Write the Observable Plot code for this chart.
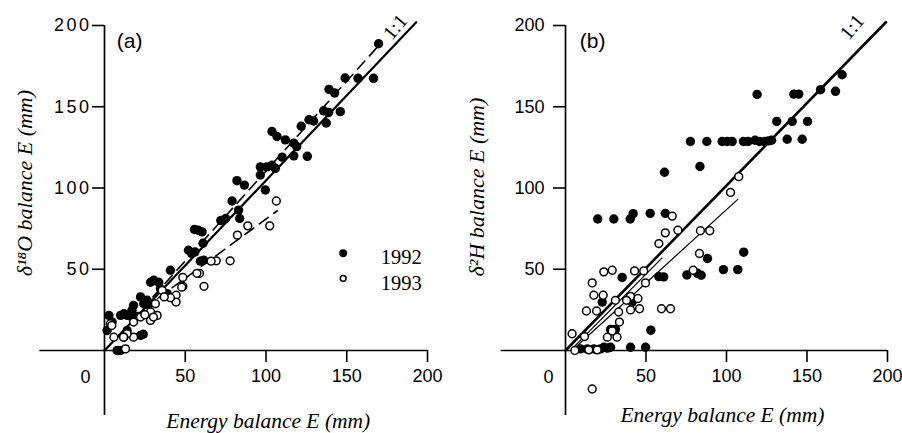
<!DOCTYPE html>
<html>
<head>
<meta charset="utf-8">
<script src="https://cdn.jsdelivr.net/npm/d3@7"></script>
<script src="https://cdn.jsdelivr.net/npm/@observablehq/plot@0.6"></script>
<style>
  html, body { margin: 0; padding: 0; background: white; }
  #wrap { display: flex; width: 902px; height: 433px; }
  #panelA g[aria-label="y-axis tick label"] text { letter-spacing: 2.5px; }
</style>
</head>
<body>
<div id="wrap"><div id="panelA"></div><div id="panelB"></div></div>
<script>
// ---------- data ----------
const ticks = [50, 100, 150, 200];

// Panel (a): energy balance E vs d18O balance E
const a1992x = [169.7,149,157,166.6,139,142.5,146,135.7,138.8,137.3,121.8,126.6,129.5,103.7,106.8,112,117.2,119,117.2,125.6,110,103.7,100.6,96.5,96.5,105.8,99.6,82,86.6,79,83,83.7,75,72,55.7,58,60.4,61,52,54,56,61.4,59.4,40.8,30.5,28.5,33.6,34.6,38.8,43,22.3,26.4,24.3,27,18,17,18,10,12,14,2.7,4.7,1.6,7.8,10,22.3,24,14,21];
const a1992y = [188.8,167.7,167.5,167.5,160.7,158.5,147,147.5,146.5,140,138,142,141.2,134.8,131.7,129.6,127.6,125.5,119.8,119.5,119,114,113,113,108,112,98.8,104.5,101.8,92,86.4,81.2,81.2,80,74.5,74,73,66,61.7,59.7,60.7,55.6,55,49.4,43.2,42,42,38,35,32,33,30.9,28.8,28,27.8,24.7,21.6,21.6,22.6,21.6,21.6,17.5,12.3,0,0,9.3,10,12.3,21];
const a1993x = [106.4,102.3,88.7,82.3,77.8,69.2,66,61.6,58.8,57.2,48.5,48.5,44.3,44.3,40.8,35.7,32.6,28.5,31.5,28.5,18,18,14,12,3.7,5.8,13,22.3,37,25,4.5,30.3,47.8,11.8];
const a1993y = [92,76.7,76.7,71,55.2,55.2,55,39.5,47.5,47.5,45,39.5,34,29.8,32.5,37,21.6,23.7,28.8,18.5,17.5,8.2,10.3,8.2,16.5,8.2,1,20.6,33,22,15.4,20.6,39,8.2];
// lines in panel (a): [x1, y1, x2, y2]
const aOneToOne = [0, 0, 193, 202];
const aFit1992 = [30, 33, 171, 189];
const aFit1993 = [15, 19, 107, 86];

// Panel (b): energy balance E vs d2H balance E
const b1992x = [171.8,167.7,158.4,141.8,144.9,119,131.2,140.8,150.3,137.7,147,77.6,87.8,97.3,100.4,103.5,110.5,113.4,117.7,120.5,123.5,126,128,83.5,61.5,20,30,40.2,42,52.6,62,110.7,88.2,75.4,84.3,82,98.1,107,58,61,35.2,22.8,41.4,28,31,53,40.4,49.7,23.8,26,28,9.3,13.5,21.7,17.6];
const b1992y = [169.7,159.5,160.5,157.8,157.8,157.6,141,141,141,130,130,128.6,128.6,128.6,128.6,128.6,128.6,128.6,129.4,128.6,128.6,129,129.4,113.2,109.7,80.9,80.9,80.9,84.2,84.4,84.4,60.5,56.6,46.5,46.3,47.5,49.8,49.8,45.5,45.3,45,29.8,29.8,13,13,12.5,2,2,2,1.5,2,1,1,1,1];
const b1993x = [107.6,102.5,83.8,89.6,83.2,79.3,66.3,62,69.8,58,23.8,29,42.9,48.6,49.7,16.6,17.6,23.4,13,19.3,40.4,45,40.4,46,59.6,65.2,33,33.5,31,37.9,26,32,4.1,11.8,5.8,14.5,19.7,16.6,29];
const b1993y = [107,97.3,73.7,73.7,59.7,49.4,82.7,72.4,74,65.8,48.4,49.4,49,49,41.6,41.6,34,34,24.3,24.3,33.3,32,25,25.7,25.7,25.7,23.7,17.5,30.9,30.9,8.2,8.2,10.3,8.6,0,0.4,0.4,-23.7,12];
const bOneToOne = [0, 0, 199, 202];
const bFit1992 = [4, 1, 60, 57];
const bFit1993 = [4, 0, 107, 93];

const years = ["1992", "1993"];
const serif = "'Liberation Serif','Times New Roman',serif";

function pts(xs, ys) { return xs.map((x, i) => ({x, y: ys[i]})); }
function seg(s) { return [{x: s[0], y: s[1]}, {x: s[2], y: s[3]}]; }

function panel(cfg) {
  const marks = [
    Plot.ruleY([0], {x1: -40, x2: 200, stroke: "black", strokeWidth: 1.7}),
    Plot.ruleX([0], {y1: -40, y2: 200, stroke: "black", strokeWidth: 1.7}),
    Plot.axisX(ticks, {anchor: "bottom", tickSize: 12, tickPadding: 7, fontSize: 18, label: null, strokeWidth: 1.6}),
    Plot.axisY(ticks, {anchor: "left", tickSize: 12, tickPadding: cfg.yPad, fontSize: 18, label: null, strokeWidth: 1.6}),
    Plot.text(["0"], {x: cfg.zero[0], y: cfg.zero[1], fontSize: 18}),
    Plot.text([cfg.tag], {x: cfg.tagPos[0], y: cfg.tagPos[1], fontSize: 21}),
    Plot.text(["Energy balance E (mm)"], {x: cfg.xTitle[0], y: cfg.xTitle[1], fontSize: 21.5, fontStyle: "italic", fontFamily: serif}),
    Plot.text([cfg.yLabel], {x: cfg.yTitle[0], y: cfg.yTitle[1], rotate: -90, fontSize: 22, fontStyle: "italic", fontFamily: serif}),
    Plot.text(["1:1"], {x: cfg.oneLbl[0], y: cfg.oneLbl[1], rotate: -50, fontSize: 20, fontFamily: serif}),
    Plot.line(seg(cfg.one), {x: "x", y: "y", stroke: "black", strokeWidth: cfg.oneW}),
    Plot.line(seg(cfg.f92), {x: "x", y: "y", stroke: "black", strokeWidth: cfg.fitW, strokeDasharray: cfg.dash}),
    Plot.line(seg(cfg.f93), {x: "x", y: "y", stroke: "black", strokeWidth: cfg.fitW, strokeDasharray: cfg.dash}),
    Plot.dot(pts(cfg.x92, cfg.y92), {x: "x", y: "y", r: 4.7, fill: "black", stroke: "none"}),
    Plot.dot(pts(cfg.x93, cfg.y93), {x: "x", y: "y", r: 3.9, fill: "white", stroke: "black", strokeWidth: 1.5})
  ];
  if (cfg.legend) {
    marks.push(
      Plot.dot(years, {x: 147.8, y: (d, i) => [59.9, 44.4][i], r: (d, i) => [4.5, 3.7][i], fill: (d, i) => ["black", "white"][i], stroke: "black", strokeWidth: 1.5}),
      Plot.text(years, {x: 171, y: (d, i) => [57.5, 41.5][i], text: d => d, textAnchor: "start", fontSize: 20.5, fontFamily: serif})
    );
  }
  return Plot.plot({
    width: 451, height: 433,
    marginLeft: cfg.mL, marginRight: cfg.mR, marginTop: 25, marginBottom: 83,
    x: {domain: [0, 200]}, y: {domain: [0, 200]},
    style: {background: "white", overflow: "visible", fontFamily: "'Liberation Sans',Arial,sans-serif", color: "black"},
    marks
  });
}

document.getElementById("panelA").append(panel({
  mL: 104, mR: 24, yPad: 1, zero: [-11.7, -16.7], tag: "(a)", tagPos: [15.5, 190],
  xTitle: [101.4, -43.5], yTitle: [-49.5, 103], yLabel: "δ¹⁸O balance E (mm)",
  oneLbl: [180, 199], one: aOneToOne, f92: aFit1992, f93: aFit1993, oneW: 2.2, fitW: 1.6, dash: "11,7",
  x92: a1992x, y92: a1992y, x93: a1993x, y93: a1993y, legend: true
}));
document.getElementById("panelB").append(panel({
  mL: 114, mR: 15, yPad: 9, zero: [-10.6, -16.7], tag: "(b)", tagPos: [16.8, 190],
  xTitle: [97.5, -39.5], yTitle: [-54.7, 100.6], yLabel: "δ²H balance E (mm)",
  oneLbl: [178, 199], one: bOneToOne, f92: bFit1992, f93: bFit1993, oneW: 2.6, fitW: 1.2, dash: null,
  x92: b1992x, y92: b1992y, x93: b1993x, y93: b1993y, legend: false
}));
</script>
</body>
</html>
